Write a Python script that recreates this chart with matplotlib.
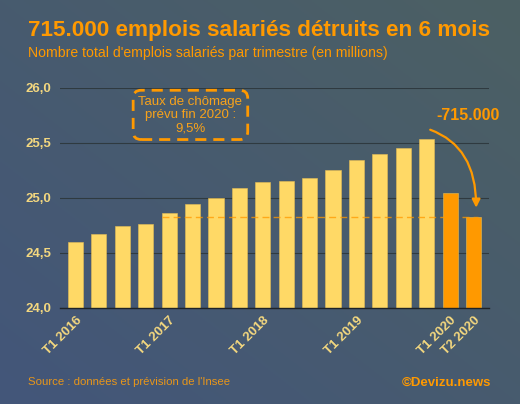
import matplotlib.pyplot as plt
import numpy as np

plt.rcParams['font.family'] = ['Liberation Sans', 'DejaVu Sans']

# Emplois salariés par trimestre (millions), T1 2016 -> T2 2020
quarters = ["T1 2016", "T2 2016", "T3 2016", "T4 2016",
            "T1 2017", "T2 2017", "T3 2017", "T4 2017",
            "T1 2018", "T2 2018", "T3 2018", "T4 2018",
            "T1 2019", "T2 2019", "T3 2019", "T4 2019",
            "T1 2020", "T2 2020"]
jobs = [24.60, 24.67, 24.74, 24.76, 24.86, 24.94, 25.00, 25.09,
        25.14, 25.15, 25.18, 25.25, 25.34, 25.40, 25.45, 25.54,
        25.04, 24.83]
forecast = [False] * 16 + [True, True]
shown_labels = ["T1 2016", "T1 2017", "T1 2018", "T1 2019", "T1 2020", "T2 2020"]
y_ticks = [24.0, 24.5, 25.0, 25.5, 26.0]

YELLOW = "#ffd966"
ORANGE = "#ff9900"
LABEL = "#f3d77f"

fig = plt.figure(figsize=(5.2, 4.04), dpi=100)

# diagonal background gradient
bg = fig.add_axes([0, 0, 1, 1])
gx, gy = np.meshgrid(np.linspace(0, 1, 200), np.linspace(0, 1, 200))
t = (gx + (1 - gy)) / 2
c0 = np.array([0x43, 0x56, 0x7a]) / 255
c1 = np.array([0x4c, 0x60, 0x63]) / 255
img = c0[None, None, :] * (1 - t[..., None]) + c1[None, None, :] * t[..., None]
bg.imshow(img, extent=[0, 1, 0, 1], aspect='auto', origin='upper')
bg.axis('off')

ax = fig.add_axes([0.1154, 0.2384, 0.825, 0.5438])
ax.set_facecolor('none')
x = np.arange(len(jobs))
colors = [ORANGE if f else YELLOW for f in forecast]
ax.bar(x, np.array(jobs) - 24.0, bottom=24.0, width=0.65, color=colors,
       edgecolor='#e6bd55', linewidth=0.4, zorder=3)

ax.set_ylim(24.0, 26.0)
ax.set_xlim(-0.66, len(jobs) - 0.34)
ax.set_yticks(y_ticks)
ax.set_yticklabels([f"{v:.1f}".replace('.', ',') for v in y_ticks],
                   fontsize=9.5, fontweight='bold', color=LABEL)
ax.yaxis.grid(True, color='#2f3a40', linewidth=0.8, zorder=0)
ax.tick_params(axis='y', length=0, pad=6)
ax.tick_params(axis='x', length=0, pad=5)

pos = [quarters.index(q) for q in shown_labels]
ax.set_xticks(pos)
ax.set_xticklabels(shown_labels, rotation=45, ha='right', va='top',
                   rotation_mode='anchor', fontsize=9.5, fontweight='bold', color=LABEL)

for s in ['top', 'right', 'left']:
    ax.spines[s].set_visible(False)
ax.spines['bottom'].set_color('#1e2328')
ax.spines['bottom'].set_linewidth(1.0)
ax.spines['bottom'].set_zorder(4)

# dashed reference at last level
ax.hlines(jobs[-1], 3.7, 17.2, colors=ORANGE, linestyles=(0, (5, 3)),
          linewidth=1.0, alpha=0.75, zorder=4)

ax.text(4.91, 25.755, "Taux de chômage\nprévu fin 2020 :\n9,5%", ha='center', va='center',
        fontsize=9.5, color='#f7a21b', linespacing=1.15,
        bbox=dict(boxstyle='round,pad=0.4,rounding_size=0.6', facecolor='none',
                  edgecolor=ORANGE, linewidth=2, linestyle=(0, (4, 2.5))),
        zorder=5)

ax.text(16.77, 25.746, "-715.000", ha='center', va='center', fontsize=11.5,
        fontweight='bold', color=ORANGE)
ax.annotate("", xy=(17.11, 24.91), xytext=(15.15, 25.62),
            arrowprops=dict(arrowstyle='-|>', color=ORANGE, lw=1.6,
                            connectionstyle='angle3,angleA=-20,angleB=90',
                            mutation_scale=12, shrinkA=0, shrinkB=0))

fig.text(0.054, 0.925, "715.000 emplois salariés détruits en 6 mois", fontsize=16.2,
         fontweight='bold', color=ORANGE, ha='left', va='center')
fig.text(0.054, 0.869, "Nombre total d'emplois salariés par trimestre (en millions)",
         fontsize=10.1, color=ORANGE, ha='left', va='center')
fig.text(0.054, 0.054, "Source : données et prévision de l'Insee", fontsize=8.2,
         color='#e8961a', ha='left', va='center')
fig.text(0.944, 0.052, "©Devizu.news", fontsize=9.5, fontweight='bold',
         color=ORANGE, ha='right', va='center')

fig.savefig("out.png", dpi=100)
